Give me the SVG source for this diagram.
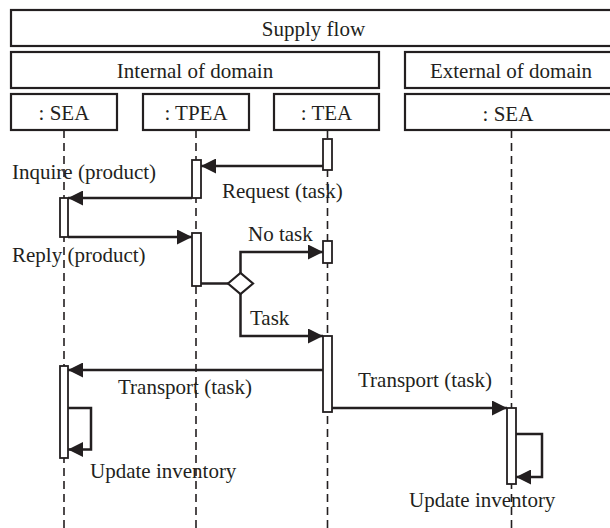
<svg xmlns="http://www.w3.org/2000/svg" width="610" height="528" viewBox="0 0 610 528">
<defs>
<style>
.box{fill:#fff;stroke:#231f20;stroke-width:2.2}
.act{fill:#fff;stroke:#231f20;stroke-width:1.8}
.life{stroke:#231f20;stroke-width:1.6;stroke-dasharray:8 5;fill:none}
.msg{stroke:#231f20;stroke-width:2.5;fill:none}
text{font-family:"Liberation Serif","Times New Roman",serif;font-size:21px;fill:#231f20}
.c{text-anchor:middle}
</style>
<marker id="ah" markerUnits="userSpaceOnUse" markerWidth="16" markerHeight="15" refX="15" refY="7.5" orient="auto">
<path d="M0,0 L15,7.5 L0,15 z" fill="#231f20"/>
</marker>
</defs>
<rect width="610" height="528" fill="#fff"/>

<g id="supply-flow">
<rect class="box" x="11" y="10" width="620" height="36"/>
<text class="c" x="313.5" y="35.5">Supply flow</text>
</g>
<g id="internal-domain">
<rect class="box" x="11" y="52" width="368" height="36"/>
<text class="c" x="195" y="78">Internal of domain</text>
</g>
<g id="external-domain">
<rect class="box" x="405" y="52" width="220" height="36"/>
<text class="c" x="511" y="77.5">External of domain</text>
</g>

<g id="lifelines">
<line class="life" x1="64" y1="130" x2="64" y2="528"/>
<line class="life" x1="196" y1="130" x2="196" y2="528"/>
<line class="life" x1="327.5" y1="130" x2="327.5" y2="528"/>
<line class="life" x1="511.5" y1="130" x2="511.5" y2="528"/>
</g>

<g id="sea-internal">
<rect class="box" x="11" y="94" width="106" height="36"/>
<text class="c" x="64" y="120">: SEA</text>
<rect class="act" x="60" y="198" width="8" height="39"/>
<rect class="act" x="60" y="366" width="8" height="92"/>
</g>
<g id="tpea">
<rect class="box" x="143" y="94" width="106" height="36"/>
<text class="c" x="196" y="120">: TPEA</text>
<rect class="act" x="192" y="160" width="9" height="38"/>
<rect class="act" x="192" y="233" width="9" height="53"/>
</g>
<g id="tea">
<rect class="box" x="274" y="94" width="105" height="36"/>
<text class="c" x="326.5" y="120">: TEA</text>
<rect class="act" x="323" y="139" width="9" height="31"/>
<rect class="act" x="323" y="241" width="9" height="22"/>
<rect class="act" x="323" y="336" width="9" height="76"/>
</g>
<g id="sea-external">
<rect class="box" x="405" y="94" width="220" height="36"/>
<text class="c" x="508" y="120.5">: SEA</text>
<rect class="act" x="507" y="408" width="9" height="76"/>
</g>
<g id="decision">
<polygon class="box" points="228,283.5 240.5,273 253,283.5 240.5,294"/>
</g>

<g id="connectors">
<line class="msg" x1="323" y1="166" x2="201" y2="166" marker-end="url(#ah)"/>
<line class="msg" x1="192" y1="198" x2="68" y2="198" marker-end="url(#ah)"/>
<line class="msg" x1="68" y1="237" x2="192" y2="237" marker-end="url(#ah)"/>
<line class="msg" x1="201" y1="283.5" x2="228" y2="283.5"/>
<polyline class="msg" points="240.5,273 240.5,252 323,252" marker-end="url(#ah)"/>
<polyline class="msg" points="240.5,294 240.5,336 323,336" marker-end="url(#ah)"/>
<line class="msg" x1="323" y1="370" x2="68" y2="370" marker-end="url(#ah)"/>
<line class="msg" x1="332" y1="408" x2="507" y2="408" marker-end="url(#ah)"/>
<polyline class="msg" points="68,408 91,408 91,449.5 68,449.5" marker-end="url(#ah)"/>
<polyline class="msg" points="516,434 542,434 542,477 516,477" marker-end="url(#ah)"/>
</g>

<g id="labels">
<text x="12" y="179">Inquire (product)</text>
<text x="222" y="198">Request (task)</text>
<text x="12" y="262">Reply (product)</text>
<text x="248" y="241">No task</text>
<text x="250" y="325">Task</text>
<text x="118" y="394">Transport (task)</text>
<text x="358" y="387">Transport (task)</text>
<text x="90" y="478">Update inventory</text>
<text x="409" y="507">Update inventory</text>
</g>
</svg>
